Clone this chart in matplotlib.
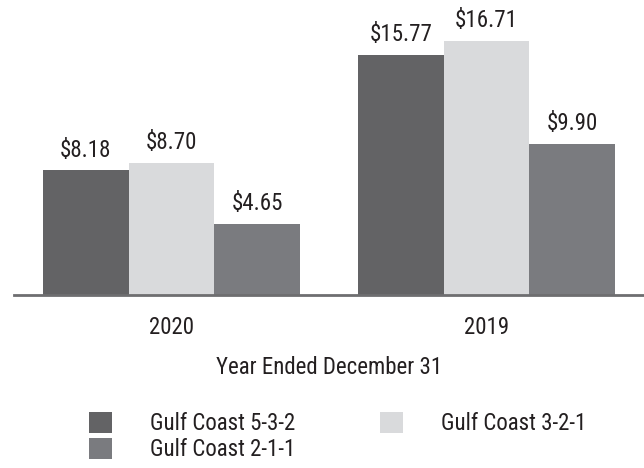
import matplotlib
matplotlib.use('Agg')
import matplotlib.pyplot as plt
import numpy as np

plt.rcParams['font.family'] = ['Roboto Condensed', 'Liberation Sans', 'DejaVu Sans']

# Data
years = ['2020', '2019']
series = ['Gulf Coast 5-3-2', 'Gulf Coast 3-2-1', 'Gulf Coast 2-1-1']
crack_532 = [8.18, 15.77]
crack_321 = [8.70, 16.71]
crack_211 = [4.65, 9.90]
colors = ['#636365', '#d9dadc', '#7a7b7f']
fs = 16.5
txt = '#231f20'

fig = plt.figure(figsize=(6.44, 4.68), dpi=100)
ax = fig.add_axes([14/644, 173/468, 630/644, 274/468])

x = np.arange(len(years))
w = 0.272
bars = []
for i, (vals, c, name) in enumerate(zip([crack_532, crack_321, crack_211], colors, series)):
    b = ax.bar(x + (i - 1) * w, vals, w, color=c, label=name)
    bars.append(b)
    for xi, v in zip(x + (i - 1) * w, vals):
        ax.annotate(f'${v:.2f}', (xi, v), xytext=(0, 10), textcoords='offset points',
                    ha='center', va='baseline', fontsize=fs, color=txt)

ax.set_xlim(-0.5, 1.5)
ax.set_ylim(0, 18)
ax.set_yticks([])
for s in ['top', 'right', 'left']:
    ax.spines[s].set_visible(False)
ax.spines['bottom'].set_color('#6e6e70')
ax.spines['bottom'].set_linewidth(2)
ax.set_xticks(x)
ax.set_xticklabels(years, fontsize=fs, color=txt)
ax.tick_params(axis='x', length=0, pad=15)
ax.set_xlabel('Year Ended December 31', fontsize=fs, color=txt, labelpad=12)

handles = [bars[0], bars[2], bars[1]]
labels = [series[0], series[2], series[1]]
fig.legend(handles, labels, loc='upper left', bbox_to_anchor=(89/644, 1 - 412/468),
           ncol=2, frameon=False, fontsize=fs, handlelength=0.99, handleheight=1.03,
           handletextpad=1.67, columnspacing=3.7, labelspacing=0.12, borderpad=0,
           borderaxespad=0, labelcolor=txt)

fig.savefig('out.png', dpi=100)
